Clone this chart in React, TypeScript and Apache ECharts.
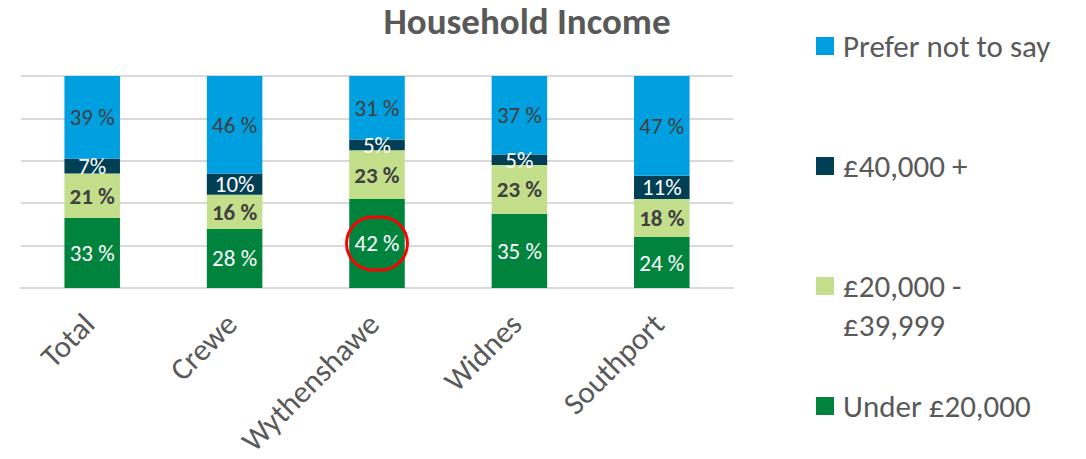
import React, { useEffect, useRef } from "react";
import * as echarts from "echarts";

const categories = ["Total", "Crewe", "Wythenshawe", "Widnes", "Southport"];
const under20k = [33, 28, 42, 35, 24];
const mid20to40k = [21, 16, 23, 23, 18];
const over40k = [7, 10, 5, 5, 11];
const preferNot = [39, 46, 31, 37, 47];
const yTicks = [0, 20, 40, 60, 80, 100];

const FONT = "Carlito, 'Open Sans', sans-serif";
const GRAY = "#595959";
const DARK = "#404040";

export default function App() {
  const ref = useRef<HTMLDivElement>(null);
  useEffect(() => {
    document.body.style.margin = "0";
    const chart = echarts.init(ref.current!, null, { renderer: "svg" });
    const legendBase = {
      orient: "vertical",
      left: 816,
      padding: 0,
      itemWidth: 18,
      itemHeight: 18,
      icon: "rect",
      selectedMode: false,
      textStyle: { fontFamily: FONT, fontSize: 31, color: GRAY, lineHeight: 34, padding: [0, 0, 0, 4] },
    };
    chart.setOption({
      animation: false,
      textStyle: { fontFamily: FONT },
      title: {
        text: "Household Income",
        left: 527,
        top: 3,
        padding: 0,
        textAlign: "center",
        textStyle: { fontFamily: FONT, fontSize: 37, fontWeight: "bold", color: GRAY },
      },
      legend: [
        { ...legendBase, top: 29, data: ["Prefer not to say"] },
        { ...legendBase, top: 149, data: ["£40,000 +"] },
        { ...legendBase, top: 269, data: ["£20,000 - £39,999"], formatter: () => "£20,000 -" },
        { ...legendBase, top: 389, data: ["Under £20,000"] },
      ],
      graphic: [
        {
          type: "text",
          left: 843,
          top: 309,
          style: { text: "£39,999", fontFamily: FONT, fontSize: 31, fill: GRAY },
        },
      ],
      grid: {
        left: 21,
        right: 353,
        top: 76,
        bottom: 171,
        containLabel: false,
        outerBoundsMode: "none",
      },
      xAxis: {
        type: "category",
        data: categories,
        axisTick: { show: false },
        axisLine: { lineStyle: { color: "#d9d9d9", width: 2 } },
        axisLabel: {
          rotate: 45,
          fontSize: 31,
          lineHeight: 32,
          color: GRAY,
          fontFamily: FONT,
          margin: 27,
          padding: [0, 5, 0, 0],
          interval: 0,
        },
      },
      yAxis: {
        type: "value",
        min: yTicks[0],
        max: yTicks[yTicks.length - 1],
        interval: 20,
        axisLabel: { show: false },
        splitLine: { lineStyle: { color: "#d9d9d9", width: 2 } },
      },
      series: [
        {
          name: "Under £20,000",
          type: "bar",
          stack: "t",
          barWidth: "39%",
          itemStyle: { color: "#00843D" },
          label: { show: true, formatter: "{c} %", color: "#fff", fontSize: 23, fontFamily: FONT },
          data: under20k.map((v, i) =>
            categories[i] === "Wythenshawe"
              ? {
                  value: v,
                  label: {
                    borderColor: "#FF0000",
                    borderWidth: 3,
                    borderRadius: 32,
                    padding: [16, 8, 14, 8],
                  },
                }
              : v
          ),
        },
        {
          name: "£20,000 - £39,999",
          type: "bar",
          stack: "t",
          itemStyle: { color: "#C4DF8B" },
          label: { show: true, formatter: "{c} %", color: DARK, fontWeight: "bold", fontSize: 23, fontFamily: FONT },
          data: mid20to40k,
        },
        {
          name: "£40,000 +",
          type: "bar",
          stack: "t",
          itemStyle: { color: "#003F54" },
          label: { show: true, formatter: "{c}%", color: "#fff", fontSize: 23, fontFamily: FONT },
          data: over40k,
        },
        {
          name: "Prefer not to say",
          type: "bar",
          stack: "t",
          itemStyle: { color: "#009FDF" },
          label: { show: true, formatter: "{c} %", color: DARK, fontSize: 23, fontFamily: FONT },
          data: preferNot,
        },
      ],
    });
    return () => chart.dispose();
  }, []);
  return <div ref={ref} style={{ width: 1086, height: 459 }} />;
}
